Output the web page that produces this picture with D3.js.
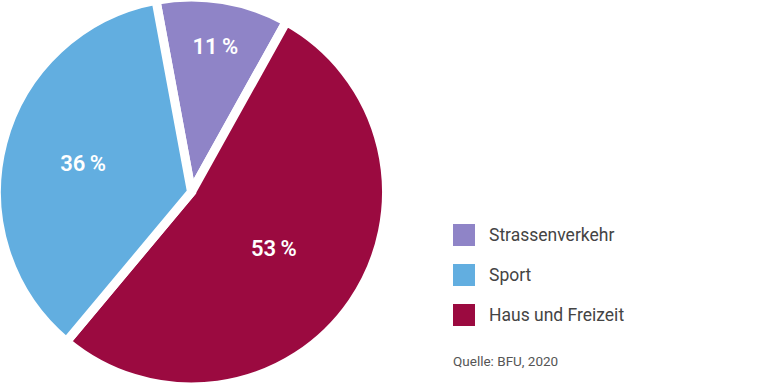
<!DOCTYPE html>
<html>
<head>
<meta charset="utf-8">
<script src="https://cdn.jsdelivr.net/npm/d3@7"></script>
<style>
  html, body { margin: 0; padding: 0; background: #fff; }
  svg { display: block; font-family: Roboto, "Noto Sans", sans-serif; }
</style>
</head>
<body>
<div id="chart"></div>
<script>
// data
const categories = ["Strassenverkehr", "Haus und Freizeit", "Sport"];
const values = [11, 53, 36];
const colors = ["#8f84c7", "#9b0a40", "#62aee0"];
const legendOrder = ["Strassenverkehr", "Sport", "Haus und Freizeit"];
const source = "Quelle: BFU, 2020";

const width = 768, height = 383;
const cx = 191.5, cy = 192, radius = 195;
// distance of each percentage label from the centre
const labelRadius = [148, 100, 112];

const svg = d3.select("#chart").append("svg")
    .attr("width", width)
    .attr("height", height);

const color = d3.scaleOrdinal(categories, colors);

const start = -10.5 * Math.PI / 180;
const pie = d3.pie()
    .sort(null)
    .startAngle(start)
    .endAngle(start + 2 * Math.PI)
    .value(d => d.value);

const data = categories.map((c, i) => ({ name: c, value: values[i], lr: labelRadius[i] }));
const arcs = pie(data);

const arc = d3.arc().innerRadius(0).outerRadius(radius);

const g = svg.append("g").attr("transform", `translate(${cx},${cy})`);

g.selectAll("path")
  .data(arcs)
  .join("path")
    .attr("d", arc)
    .attr("fill", d => color(d.data.name))
    .attr("stroke", "#fff")
    .attr("stroke-width", 9)
    .attr("stroke-linejoin", "miter");

g.selectAll("text")
  .data(arcs)
  .join("text")
    .attr("transform", d => {
      const a = (d.startAngle + d.endAngle) / 2;
      return `translate(${Math.sin(a) * d.data.lr},${-Math.cos(a) * d.data.lr})`;
    })
    .attr("text-anchor", "middle")
    .attr("dy", "0.35em")
    .attr("fill", "#fff")
    .attr("font-size", 22)
    .attr("font-weight", 600)
    .text(d => d.data.value + "\u2009%");

// legend
const legend = svg.append("g").attr("transform", "translate(453,224)");
const item = legend.selectAll("g")
  .data(legendOrder)
  .join("g")
    .attr("transform", (d, i) => `translate(0,${i * 40})`);

item.append("rect")
    .attr("width", 22)
    .attr("height", 22)
    .attr("fill", d => color(d));

item.append("text")
    .attr("x", 36)
    .attr("y", 17)
    .attr("font-size", 17.5)
    .attr("fill", "#444")
    .text(d => d);

svg.append("text")
    .attr("x", 453)
    .attr("y", 366)
    .attr("font-size", 13.5)
    .attr("fill", "#555")
    .text(source);
</script>
</body>
</html>
